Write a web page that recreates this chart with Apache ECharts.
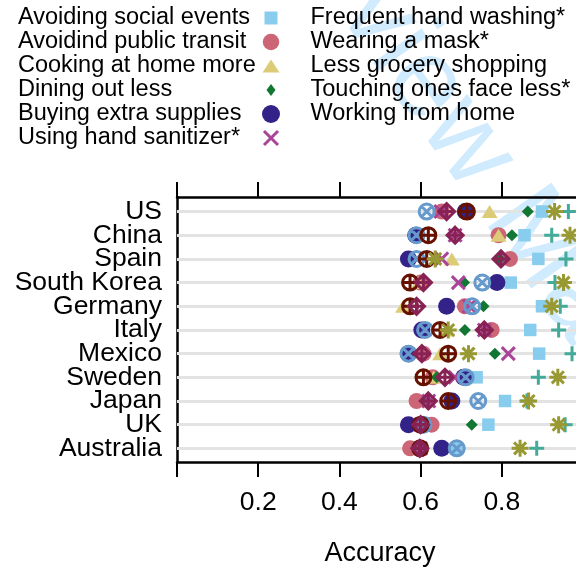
<!DOCTYPE html>
<html><head><meta charset="utf-8">
<script src="https://cdn.jsdelivr.net/npm/echarts@6/dist/echarts.min.js"></script>
<style>
html,body{margin:0;padding:0;overflow:hidden;background:#fff;width:576px;height:569px}
#c{width:600px;height:569px}
</style></head>
<body><div id="c"></div>
<script>
// ---------- data ----------
const countries = ['US','China','Spain','South Korea','Germany','Italy','Mexico','Sweden','Japan','UK','Australia'];
const xTickLabels = ['', '0.2', '0.4', '0.6', '0.8', ''];
const seriesNames = ['Avoiding social events','Avoidind public transit','Cooking at home more','Dining out less',
  'Buying extra supplies','Using hand sanitizer*','Frequent hand washing*','Wearing a mask*',
  'Less grocery shopping','Touching ones face less*','Working from home'];

const avoidSocial    = [0.899,0.856,0.890,0.822,0.899,0.870,0.892,0.738,0.808,0.767,0.688];
const publicTransit  = [0.652,0.792,0.820,0.600,0.709,0.775,0.607,0.630,0.590,0.627,0.574];
const cookingHome    = [0.770,0.792,0.677,0.595,0.557,0.665,0.648,0.632,0.620,0.600,0.600];
const diningOut      = [0.864,0.825,0.795,0.707,0.755,0.709,0.783,0.640,0.615,0.726,0.600];
const buyingSupplies = [0.710,0.588,0.570,0.788,0.664,0.603,0.570,0.706,0.677,0.570,0.652];
const handSanitizer  = [0.650,0.685,0.652,0.693,0.720,0.757,0.816,0.685,0.620,0.600,0.600];
const handWashing    = [0.615,0.590,0.590,0.752,0.727,0.611,0.570,0.711,0.742,0.607,0.689];
const wearingMask    = [0.714,0.619,0.615,0.574,0.574,0.648,0.668,0.607,0.668,0.600,0.599];
const lessGrocery    = [0.964,0.923,0.958,0.931,0.944,0.940,0.973,0.890,0.862,0.956,0.886];
const touchingFace   = [0.930,0.968,0.636,0.952,0.923,0.668,0.718,0.938,0.866,0.940,0.845];
const workingHome    = [0.664,0.685,0.798,0.607,0.590,0.757,0.603,0.660,0.619,0.600,0.598];

const seriesValues = [avoidSocial, publicTransit, cookingHome, diningOut, buyingSupplies, handSanitizer,
  handWashing, wearingMask, lessGrocery, touchingFace, workingHome];

// ---------- styles ----------
const FONT = "'Liberation Sans', Arial, Helvetica, sans-serif";
const P_CX = 'path://M0,10A10,10 0 1,1 20,10A10,10 0 1,1 0,10ZM2.93,2.93L17.07,17.07M17.07,2.93L2.93,17.07';
const P_CP = 'path://M0,10A10,10 0 1,1 20,10A10,10 0 1,1 0,10ZM0,10L20,10M10,0L10,20';
const P_DP = 'path://M10,0L20,10L10,20L0,10ZM0,10L20,10M10,0L10,20';
const P_PLUS = 'path://M0,10L20,10M10,0L10,20';
const P_X = 'path://M0,0L20,20M20,0L0,20';
const P_AST = 'path://M10,0L10,20M0,10L20,10M2.93,2.93L17.07,17.07M17.07,2.93L2.93,17.07';

const styles = [
  {symbol:'rect', size:12.5, fill:'#88CCEE'},
  {symbol:'circle', size:16, fill:'#CC6677'},
  {symbol:'triangle', size:[16,13], fill:'#DDCC77'},
  {symbol:'diamond', size:12, fill:'#117733'},
  {symbol:'circle', size:17, fill:'#332288'},
  {symbol:P_X, size:13, stroke:'#AA4499'},
  {symbol:P_CX, size:15, stroke:'#6699CC'},
  {symbol:P_CP, size:15, stroke:'#661100'},
  {symbol:P_PLUS, size:15, stroke:'#44AA99'},
  {symbol:P_AST, size:17, stroke:'#999933'},
  {symbol:P_DP, size:16, stroke:'#882255'}
];
const legendIcons = [
  'path://M0,0M18,18M2.5,2.5L15.5,2.5L15.5,15.5L2.5,15.5Z',
  'path://M0,0M18,18M0.75,9A8.25,8.25 0 1,1 17.25,9A8.25,8.25 0 1,1 0.75,9Z',
  'path://M0,0M18,18M9,2.5L17.5,15.5L0.5,15.5Z',
  'path://M0,0M18,18M9,3L13.5,9L9,15L4.5,9Z',
  'circle',
  'path://M0,0M18,18M2,2L16,16M16,2L2,16'
];

// rows: category axis (grid 1) carries country labels; data drawn in the same rows
const series = seriesNames.map((name, k) => {
  const st = styles[k];
  const s = {
    name, type:'scatter', xAxisIndex: 2, yAxisIndex: 1,
    symbol: st.symbol, symbolSize: st.size,
    data: seriesValues[k].map((v, i) => [v, countries[i]]),
    itemStyle: st.stroke ? {color:'transparent', borderColor: st.stroke, borderWidth: 3, opacity: 1}
                         : {color: st.fill, opacity: 1},
    emphasis: {disabled: true}, silent: true
  };
  if (k === 0) {
    s.markLine = {
      silent: true, symbol: ['none','none'], z: 1, animation: false,
      label: {show: false},
      lineStyle: {color:'#e3e3e3', width: 3, type:'solid'},
      data: countries.map(c => ({yAxis: c}))
    };
  }
  return s;
});

const legendText = (w) => ({
  rich: {t: {width: w, align: 'left', fontSize: 23.5, lineHeight: 24.4, fontFamily: FONT, color: '#000'}}
});

const option = {
  animation: false,
  graphic: [{
    type: 'text', x: 262, y: -150, rotation: -0.96, z: -10, silent: true,
    style: {text: 'Preview Manuscript', fontSize: 112, fontFamily: FONT, fill: 'rgba(135,206,250,0.4)',
            verticalAlign: 'middle', align: 'left'}
  }],
  grid: [
    {left: 177, top: 197, width: 406, height: 265, containLabel: false},
    {left: 177, top: 199.7, width: 406, height: 260.5, containLabel: false}
  ],
  legend: [{
    data: seriesNames.slice(0, 6).map((n, i) => {
      const d = {name: n, icon: legendIcons[i]};
      if (i === 5) d.itemStyle = {borderWidth: 3};
      return d;
    }),
    orient: 'vertical', align: 'right', left: 18, top: 6, padding: 0, itemGap: 0,
    itemWidth: 18, itemHeight: 18, selectedMode: false,
    formatter: n => '{t|' + n + '}', textStyle: legendText(239)
  }, {
    data: seriesNames.slice(6),
    orient: 'vertical', align: 'right', left: 310.5, top: 6, padding: 0, itemGap: 0,
    itemWidth: 18, itemHeight: 18, selectedMode: false,
    formatter: n => '{t|' + n + '}', textStyle: legendText(300)
  }],
  xAxis: [{
    gridIndex: 0, type: 'value', position: 'bottom', min: 0, max: 1, interval: 0.2,
    axisLine: {show: true, onZero: false, lineStyle: {color:'#000', width: 2.5}},
    axisTick: {show: true, inside: false, length: 15, lineStyle: {color:'#000', width: 2}},
    axisLabel: {color:'#000', fontSize: 26.5, fontFamily: FONT, margin: 27,
                formatter: v => xTickLabels[Math.round(v / 0.2)]},
    splitLine: {show: false},
    name: 'Accuracy', nameLocation: 'middle', nameGap: 78,
    nameTextStyle: {color:'#000', fontSize: 27, fontFamily: FONT}
  }, {
    gridIndex: 0, type: 'value', position: 'top', min: 0, max: 1, interval: 0.2,
    axisLine: {show: true, onZero: false, lineStyle: {color:'#000', width: 2.5}},
    axisTick: {show: true, inside: false, length: 15, lineStyle: {color:'#000', width: 2}},
    axisLabel: {show: false}, splitLine: {show: false}
  }, {
    gridIndex: 1, type: 'value', position: 'bottom', min: 0, max: 1, interval: 0.2, show: false
  }],
  yAxis: [{
    gridIndex: 0, type: 'value', min: 0, max: 1,
    axisLine: {show: true, onZero: false, lineStyle: {color:'#000', width: 2.5}},
    axisTick: {show: false}, axisLabel: {show: false}, splitLine: {show: false}
  }, {
    gridIndex: 1, type: 'category', data: countries, inverse: true,
    axisLine: {show: false}, axisTick: {show: false}, splitLine: {show: false},
    axisLabel: {color:'#000', fontSize: 26.5, fontFamily: FONT, margin: 15, interval: 0}
  }],
  series
};

const chart = echarts.init(document.getElementById('c'), null, {renderer: 'canvas'});
chart.setOption(option);
</script>
</body></html>
